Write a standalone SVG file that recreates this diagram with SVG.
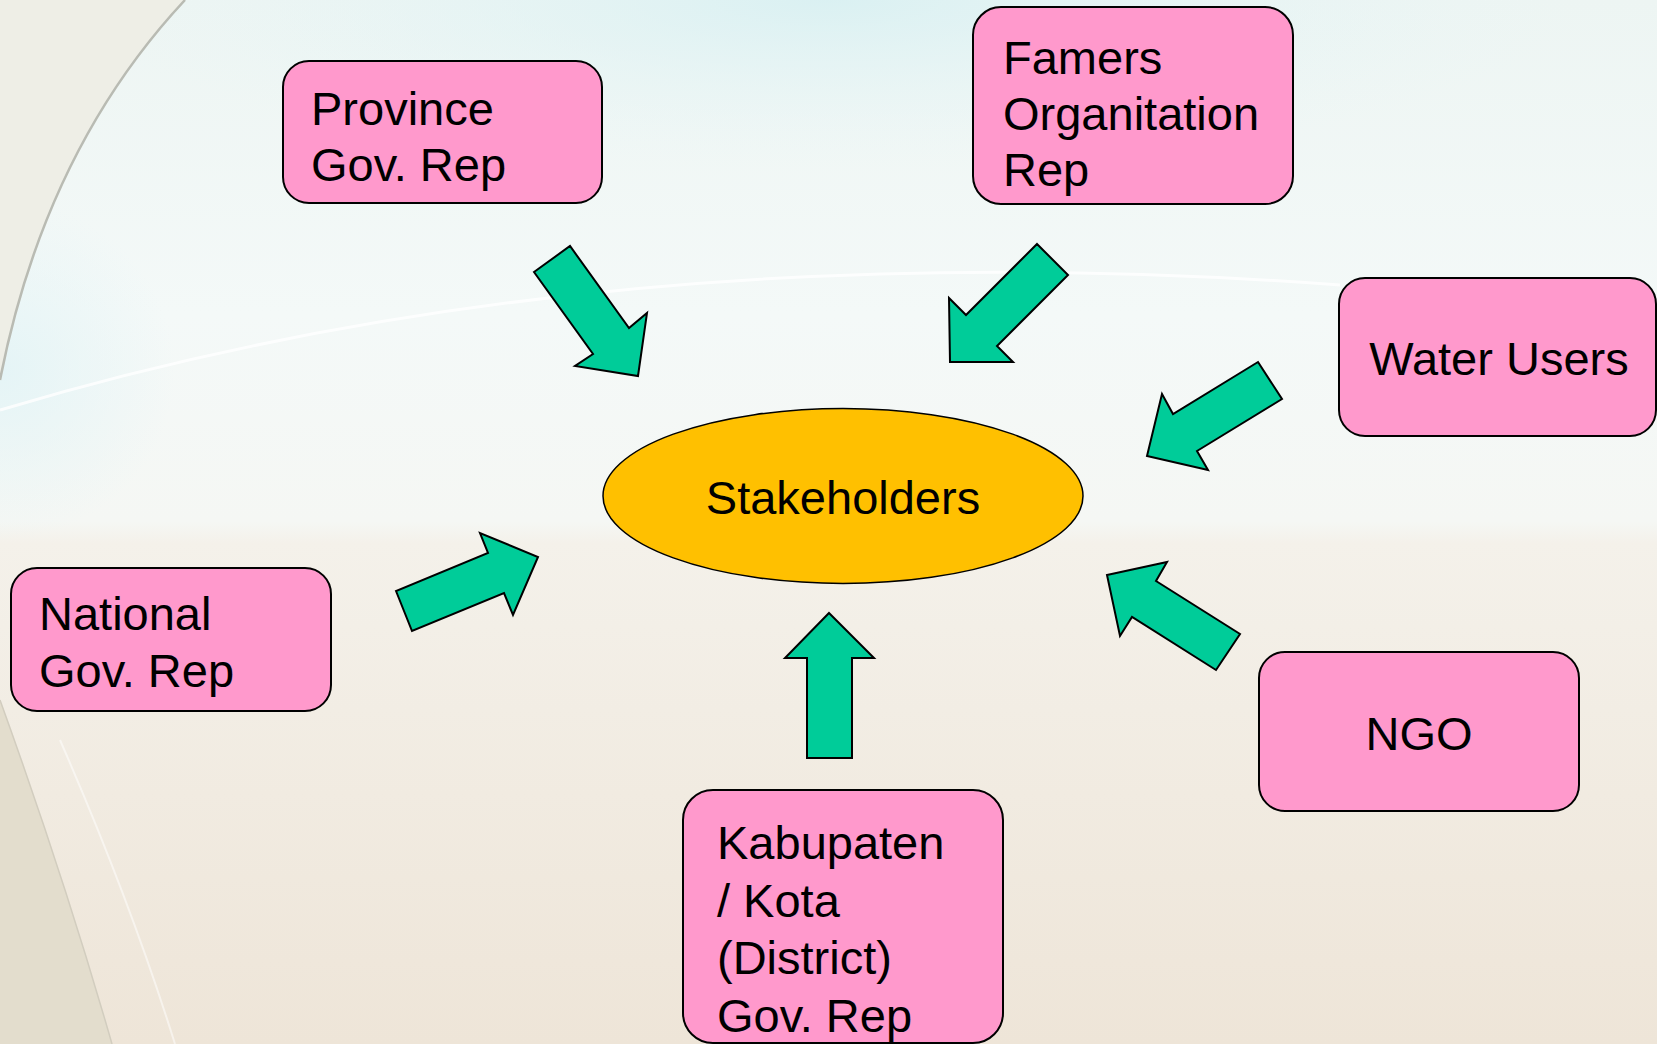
<svg xmlns="http://www.w3.org/2000/svg" width="1657" height="1044" viewBox="0 0 1657 1044">
<defs>
<linearGradient id="bg" x1="0" y1="0" x2="0" y2="1">
<stop offset="0" stop-color="#edf5f3"/>
<stop offset="0.3" stop-color="#f4f9f8"/>
<stop offset="0.5" stop-color="#f5f7f4"/>
<stop offset="0.52" stop-color="#f4f1ea"/>
<stop offset="1" stop-color="#eee5d8"/>
</linearGradient>
<radialGradient id="glow" cx="0.5" cy="0" r="0.5" gradientTransform="translate(0.05 0) scale(0.9 0.6)">
<stop offset="0" stop-color="#d8f0f2" stop-opacity="0.9"/>
<stop offset="1" stop-color="#e8f6f7" stop-opacity="0"/>
</radialGradient>
<radialGradient id="glow2" cx="0" cy="0.5" r="0.5" gradientTransform="scale(0.5 1)">
<stop offset="0" stop-color="#e3f4f6" stop-opacity="0.9"/>
<stop offset="1" stop-color="#e3f4f6" stop-opacity="0"/>
</radialGradient>
<style>
.box{fill:#ff99cc;stroke:#000;stroke-width:2}
.arr{fill:#00cc99;stroke:#000;stroke-width:2;stroke-linejoin:miter}
.t{font-family:"Liberation Sans",Arial,sans-serif;font-size:47px;fill:#000}
.c{text-anchor:middle}
</style>
</defs>
<g id="background">
<rect x="0" y="0" width="1657" height="1044" fill="url(#bg)"/>
<rect x="0" y="0" width="1657" height="560" fill="url(#glow)"/>
<rect x="0" y="200" width="700" height="340" fill="url(#glow2)"/>
<path d="M0,0 L185,0 Q45,150 0,380 Z" fill="#eeeee6"/>
<path d="M185,0 Q45,150 0,380" fill="none" stroke="#b9bbb3" stroke-width="2.5"/>
<path d="M0,700 Q65,880 112,1044 L0,1044 Z" fill="#e3ddcd"/>
<path d="M0,700 Q65,880 112,1044" fill="none" stroke="#d2cdbf" stroke-width="1.5"/>
<path d="M60,740 Q130,900 175,1044" fill="none" stroke="#ffffff" stroke-opacity="0.5" stroke-width="2"/>
<path d="M0,410 Q600,230 1340,285" fill="none" stroke="#ffffff" stroke-opacity="0.8" stroke-width="3"/>
</g>
<g id="connectors">
<polygon class="arr" points="534,272 570,246 629,328 647,313 638,376 575,366 593,354"/>
<polygon class="arr" points="1037,244 1068,275 997,346 1013,362 950,362 949,298 966,315"/>
<polygon class="arr" points="1258,362 1282,399 1197,451 1208,470 1147,456 1162,394 1173,414"/>
<polygon class="arr" points="396,591 412,631 504,593 513,615 538,557 480,533 488,553"/>
<polygon class="arr" points="1107,575 1167,562 1156,581 1240,634 1216,670 1132,617 1120,636"/>
<polygon class="arr" points="829,613 874,658 852,658 852,758 807,758 807,658 785,658"/>
</g>
<g id="stakeholders">
<ellipse cx="843" cy="496" rx="240" ry="87.5" fill="#ffc000" stroke="#000" stroke-width="1.5"/>
<text class="t c" x="843" y="514">Stakeholders</text>
</g>
<g id="province">
<rect class="box" x="283" y="61" width="319" height="142" rx="26"/>
<text class="t" x="311" y="125">Province</text>
<text class="t" x="311" y="181">Gov. Rep</text>
</g>
<g id="famers">
<rect class="box" x="973" y="7" width="320" height="197" rx="28"/>
<text class="t" x="1003" y="74">Famers</text>
<text class="t" x="1003" y="130">Organitation</text>
<text class="t" x="1003" y="186">Rep</text>
</g>
<g id="water-users">
<rect class="box" x="1339" y="278" width="317" height="158" rx="26"/>
<text class="t c" x="1499" y="375">Water Users</text>
</g>
<g id="national">
<rect class="box" x="11" y="568" width="320" height="143" rx="26"/>
<text class="t" x="39" y="630">National</text>
<text class="t" x="39" y="687">Gov. Rep</text>
</g>
<g id="ngo">
<rect class="box" x="1259" y="652" width="320" height="159" rx="26"/>
<text class="t c" x="1419" y="750">NGO</text>
</g>
<g id="kabupaten">
<rect class="box" x="683" y="790" width="320" height="253" rx="30"/>
<text class="t" x="717" y="859">Kabupaten</text>
<text class="t" x="717" y="917">/ Kota</text>
<text class="t" x="717" y="974">(District)</text>
<text class="t" x="717" y="1032">Gov. Rep</text>
</g>
</svg>
